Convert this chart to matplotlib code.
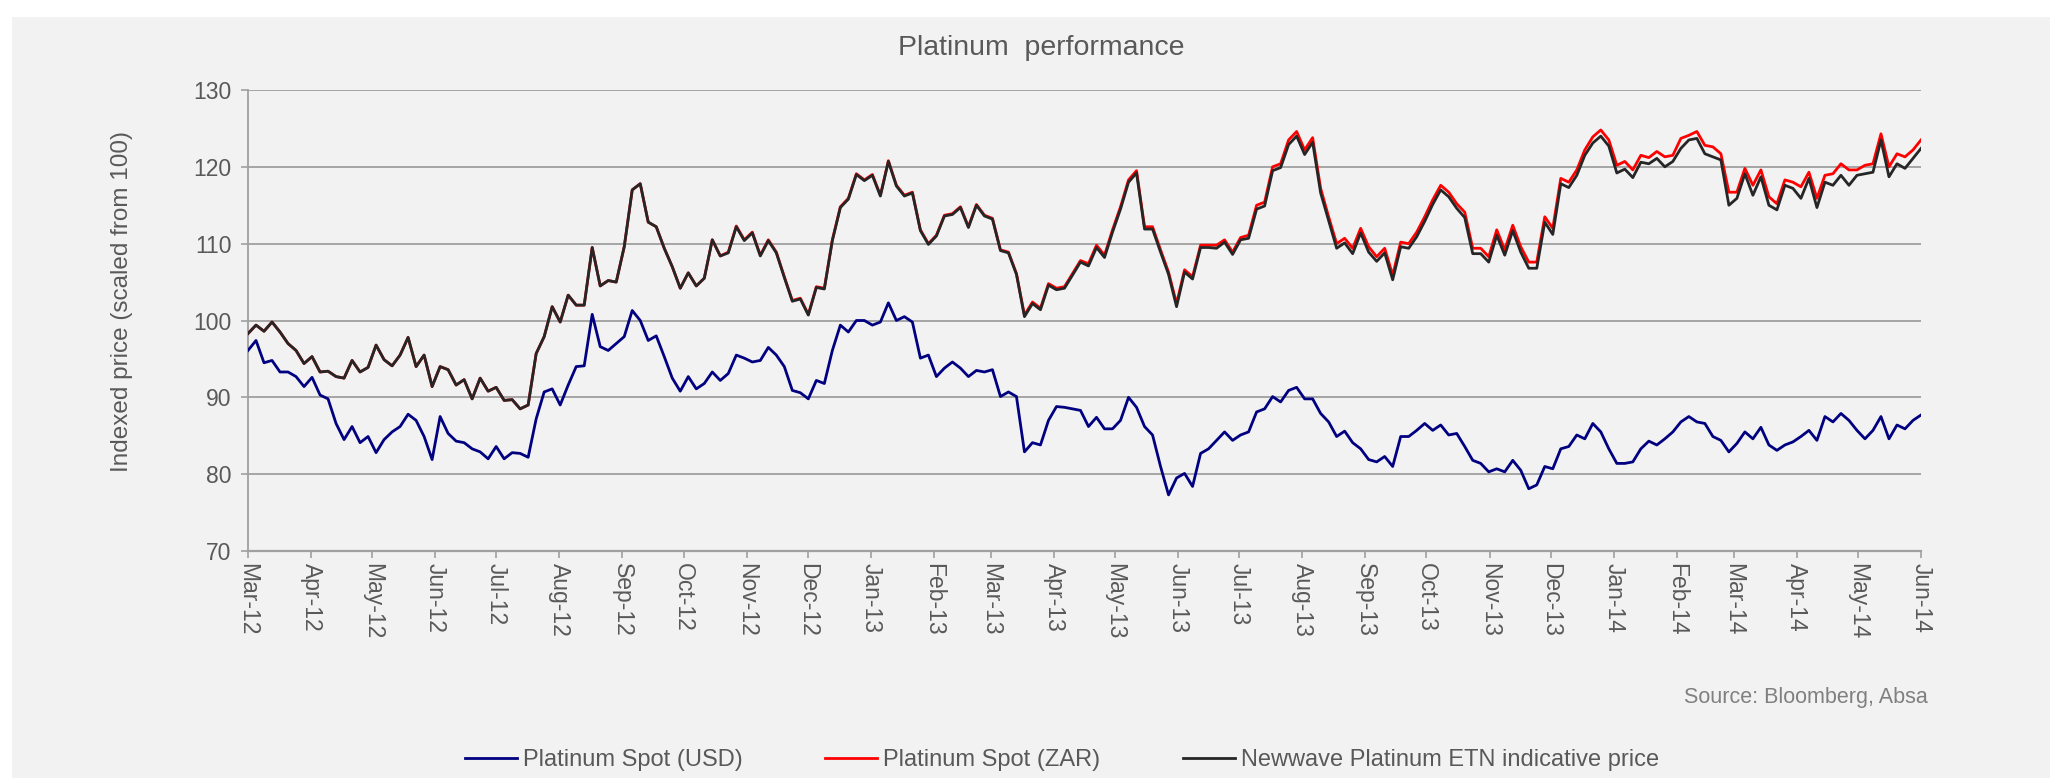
import numpy as np
import pandas as pd
import matplotlib
matplotlib.use('Agg')
import matplotlib.pyplot as plt
import matplotlib.dates as mdates
import matplotlib.patches as patches

plt.rcParams['font.family'] = ['Liberation Sans', 'DejaVu Sans']

# 지수화된 가격 (100 기준), 대략 4일 간격으로 그림에서 읽은 값
usd = [96.1, 97.4, 94.5, 94.8, 93.3, 93.3, 92.7, 91.4, 92.6, 90.3,
       89.8, 86.6, 84.5, 86.2, 84.1, 84.9, 82.8, 84.5, 85.5, 86.2,
       87.8, 87.0, 84.9, 81.9, 87.5, 85.3, 84.3, 84.1, 83.3, 82.9,
       82.0, 83.6, 82.0, 82.8, 82.7, 82.2,
       87.2, 90.7, 91.1, 89.0, 91.6, 94.0, 94.1, 100.8, 96.6, 96.1,
       97.0, 97.9, 101.3, 100.0, 97.4, 98.0, 95.3, 92.5, 90.8, 92.7,
       91.1, 91.8, 93.3, 92.2, 93.1, 95.5, 95.1, 94.6, 94.8, 96.5,
       95.5, 94.0, 90.9, 90.6, 89.8,
       92.2, 91.8, 96.1, 99.4, 98.5, 100.0, 100.0, 99.4, 99.8, 102.3,
       100.0, 100.5, 99.8, 95.1, 95.5, 92.7, 93.8, 94.6, 93.8, 92.7,
       93.5, 93.3, 93.6, 90.1, 90.7, 90.1, 82.9, 84.1, 83.8, 87.0,
       88.8, 88.7, 88.5, 88.3, 86.2,
       87.4, 85.9, 85.9, 87.0, 90.0, 88.7, 86.2, 85.1, 81.0, 77.3,
       79.5, 80.1, 78.4, 82.7, 83.3, 84.4, 85.5, 84.4, 85.1, 85.5,
       88.1, 88.5, 90.1, 89.4, 90.9, 91.3, 89.8, 89.8, 87.9, 86.8,
       84.9, 85.6, 84.1, 83.3, 81.9,
       81.6, 82.3, 81.0, 84.9, 84.9, 85.7, 86.6, 85.7, 86.4, 85.1,
       85.3, 83.6, 81.8, 81.4, 80.3, 80.7, 80.3, 81.8, 80.5, 78.1,
       78.6, 81.0, 80.7, 83.3, 83.6, 85.1, 84.6, 86.6, 85.5, 83.3,
       81.4, 81.4, 81.6, 83.3, 84.3,
       83.8, 84.6, 85.5, 86.8, 87.5, 86.8, 86.6, 84.9, 84.4, 82.9,
       84.0, 85.5, 84.6, 86.1, 83.8, 83.1, 83.8, 84.2, 84.9, 85.7,
       84.4, 87.5, 86.8, 87.9, 87.0, 85.7, 84.6, 85.7, 87.5, 84.6,
       86.4, 85.9, 87.0, 87.7]

zar = [98.3, 99.4, 98.6, 99.8, 98.5, 97.0, 96.1, 94.4, 95.3, 93.3,
       93.4, 92.7, 92.5, 94.8, 93.3, 93.9, 96.8, 94.9, 94.1, 95.5,
       97.8, 94.0, 95.5, 91.4, 94.0, 93.6, 91.6, 92.3, 89.8, 92.5,
       90.8, 91.3, 89.6, 89.7, 88.5, 89.0,
       95.7, 97.9, 101.8, 99.8,
       103.3, 102.0, 102.0, 109.5, 104.5, 105.2, 105.0, 109.6, 117.0, 117.8,
       112.8, 112.2, 109.4, 107.0, 104.2, 106.2, 104.5, 105.5, 110.5, 108.4,
       108.9, 112.3, 110.5, 111.5, 108.5, 110.5, 108.9, 105.7, 102.6, 102.9,
       100.8, 104.4, 104.2, 110.5, 114.8, 115.9, 119.1, 118.3, 119.0, 116.3,
       120.8, 117.6, 116.3, 116.7, 111.8, 110.0, 111.1, 113.7, 113.9, 114.8,
       112.2, 115.1, 113.7, 113.3, 109.2, 108.9, 106.1, 100.7, 102.4, 101.6,
       104.8, 104.2, 104.4, 106.1, 107.8, 107.4, 109.8, 108.5, 111.8, 114.8,
       118.3, 119.5, 112.2, 112.2, 109.2, 106.3, 102.2, 106.6, 105.7, 109.8,
       109.8, 109.8, 110.5, 108.9, 110.8, 111.1, 115.0, 115.4, 120.0, 120.4,
       123.5, 124.6, 122.2, 123.8, 117.2, 113.5, 110.0, 110.7, 109.4, 112.0,
       109.6, 108.3, 109.4, 105.9, 110.2, 110.0, 111.5, 113.5, 115.7, 117.6,
       116.7, 115.2, 114.1, 109.4, 109.4, 108.3, 111.8, 109.2, 112.4, 109.6,
       107.6, 107.6, 113.5, 112.0, 118.5, 118.0, 119.6, 122.2, 123.9, 124.8,
       123.5, 120.2, 120.7, 119.6, 121.5, 121.2, 122.0, 121.3, 121.5, 123.7,
       124.1, 124.6, 122.8, 122.6, 121.7, 116.7, 116.7, 119.8, 117.6, 119.6,
       116.1, 115.2, 118.3, 118.0, 117.4, 119.3, 115.9, 118.9, 119.1, 120.4,
       119.6, 119.6, 120.2, 120.4, 124.3, 120.0, 121.7, 121.3, 122.2, 123.5]

etn = [98.3, 99.4, 98.6, 99.8, 98.5, 97.0, 96.1, 94.4, 95.3, 93.3,
       93.4, 92.7, 92.5, 94.8, 93.3, 93.9, 96.8, 94.9, 94.1, 95.5,
       97.8, 94.0, 95.5, 91.4, 94.0, 93.6, 91.6, 92.3, 89.8, 92.5,
       90.8, 91.3, 89.6, 89.7, 88.5, 89.0,
       95.7, 97.9, 101.8, 99.8,
       103.3, 102.0, 102.0, 109.5, 104.5, 105.2, 105.0, 109.6, 117.0, 117.8,
       112.8, 112.2, 109.4, 107.0, 104.2, 106.2, 104.5, 105.5, 110.5, 108.4,
       108.8, 112.2, 110.4, 111.4, 108.4, 110.4, 108.8, 105.6, 102.5, 102.8,
       100.7, 104.3, 104.1, 110.4, 114.7, 115.8, 119.0, 118.2, 118.9, 116.2,
       120.7, 117.5, 116.2, 116.6, 111.7, 109.9, 111.0, 113.6, 113.8, 114.7,
       112.1, 115.0, 113.6, 113.2, 109.1, 108.8, 106.0, 100.5, 102.2, 101.4,
       104.6, 104.0, 104.2, 105.9, 107.6, 107.1, 109.5, 108.2, 111.5, 114.5,
       118.0, 119.2, 111.9, 111.9, 108.9, 106.0, 101.8, 106.3, 105.4, 109.5,
       109.5, 109.4, 110.2, 108.6, 110.5, 110.7, 114.5, 114.9, 119.5, 119.9,
       122.9, 124.0, 121.6, 123.2, 116.6, 113.0, 109.4, 110.1, 108.7, 111.4,
       108.9, 107.7, 108.8, 105.3, 109.6, 109.4, 110.9, 112.9, 115.1, 117.0,
       116.1, 114.6, 113.4, 108.7, 108.7, 107.6, 111.1, 108.5, 111.7, 108.9,
       106.8, 106.8, 112.8, 111.2, 117.8, 117.3, 118.9, 121.5, 123.1, 124.0,
       122.7, 119.2, 119.7, 118.6, 120.6, 120.4, 121.1, 120.0, 120.7, 122.4,
       123.5, 123.7, 121.7, 121.3, 120.9, 115.0, 115.9, 119.1, 116.3, 118.7,
       115.0, 114.4, 117.6, 117.2, 115.9, 118.5, 114.7, 118.0, 117.6, 118.9,
       117.6, 118.9, 119.1, 119.3, 123.5, 118.7, 120.4, 119.8, 121.1, 122.4]

series_names = ['Platinum Spot (USD)', 'Platinum Spot (ZAR)',
                'Newwave Platinum ETN indicative price']

dates = pd.date_range('2012-03-01', '2014-06-01', periods=len(usd))

W, H = 2050, 778
fig = plt.figure(figsize=(W / 100, H / 100), dpi=100, facecolor='white')

# 회색 배경 패널 (축보다 뒤에)
bg = patches.Rectangle((12 / W, 0), 1 - 12 / W, (H - 17) / H,
                       transform=fig.transFigure, facecolor='#F2F2F2',
                       edgecolor='none', zorder=-10)
fig.add_artist(bg)

ax = fig.add_axes([248 / W, 1 - 551 / H, (1921 - 248) / W, (551 - 90) / H])
ax.set_facecolor('#F2F2F2')

ax.plot(dates, usd, color='#000080', lw=2.0, label=series_names[0], zorder=3)
ax.plot(dates, zar, color='#FF0000', lw=2.0, label=series_names[1], zorder=3)
ax.plot(dates, etn, color='#262626', lw=2.0, label=series_names[2], zorder=4)

ax.set_ylim(70, 130)
ax.set_yticks(range(70, 131, 10))
ax.set_xlim(pd.Timestamp('2012-03-01'), pd.Timestamp('2014-06-01'))
ax.xaxis.set_major_locator(mdates.MonthLocator())
ax.xaxis.set_major_formatter(mdates.DateFormatter('%b-%y'))

ax.grid(axis='y', color='#A0A0A0', lw=1.3)
ax.set_axisbelow(True)
for s in ['top', 'right']:
    ax.spines[s].set_visible(False)
ax.spines['left'].set_color('#A0A0A0')
ax.spines['bottom'].set_color('#A0A0A0')
ax.spines['left'].set_linewidth(1.3)
ax.spines['bottom'].set_linewidth(1.6)

ax.tick_params(axis='both', colors='#A0A0A0', labelcolor='#595959',
               labelsize=16.5, length=5, width=1.2)
ax.tick_params(axis='y', pad=7)
plt.setp(ax.get_xticklabels(), rotation=-90, va='top', ha='center')

fig.text(1041 / W, 1 - 48 / H, 'Platinum  performance', ha='center',
         va='center', fontsize=20.5, color='#595959')
fig.text(122 / W, 1 - 301 / H, 'Indexed price (scaled from 100)',
         rotation=90, ha='center', va='center', fontsize=17.5, color='#595959')
fig.text(1928 / W, 1 - 697 / H, 'Source: Bloomberg, Absa', ha='right',
         va='center', fontsize=15.5, color='#808080')

leg = fig.legend(loc='center', bbox_to_anchor=(1062 / W, 1 - 760 / H),
                 ncol=3, frameon=False, fontsize=17, handlelength=2.2,
                 handletextpad=0.25, columnspacing=3.5)
for t in leg.get_texts():
    t.set_color('#595959')

fig.savefig('out.png', dpi=100, facecolor=fig.get_facecolor())
